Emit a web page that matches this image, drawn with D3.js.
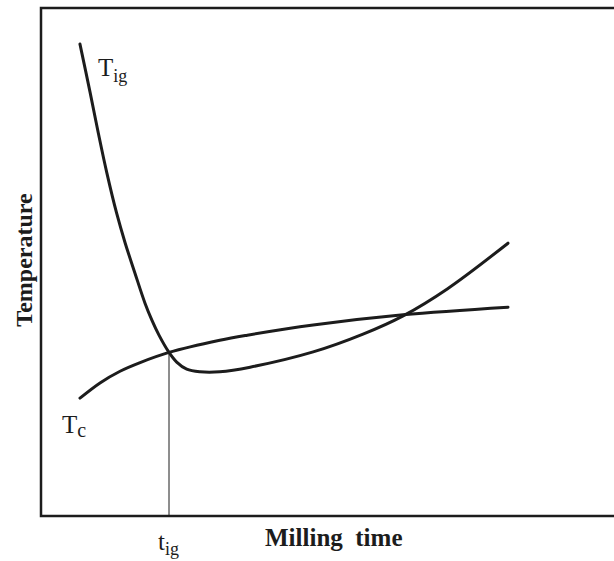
<!DOCTYPE html>
<html>
<head>
<meta charset="utf-8">
<script src="https://cdn.jsdelivr.net/npm/d3@7"></script>
<style>
  html, body { margin: 0; padding: 0; background: #fff; }
  svg { display: block; }
  text { font-family: "Liberation Serif", "DejaVu Serif", serif; fill: #1c1c1c; }
</style>
</head>
<body>
<svg id="chart" width="614" height="561"></svg>
<script>
// Schematic: ignition temperature T_ig and combustion temperature T_c vs milling time
const tigTime = [6.8, 8.55, 10.0, 11.5, 13.2, 14.7, 16.4, 18.15, 19.37, 20.59, 22.34, 23.68, 25.43, 27.75, 31.2, 36.5, 47.5, 56.2, 63.2, 70.9, 81.5];
const tigTemp = [92.9, 83.5, 75.4, 67.5, 59.6, 53.7, 47.8, 41.9, 38.5, 35.6, 32.2, 30.3, 28.9, 28.4, 28.4, 29.3, 32.3, 35.8, 39.4, 44.7, 53.7];

const tcTime = [6.8, 10.3, 13.8, 17.3, 22.34, 31.2, 36.0, 47.5, 63.2, 81.5];
const tcTemp = [23.2, 26.2, 28.5, 30.2, 32.2, 34.6, 35.6, 37.6, 39.6, 41.1];

// Milling time at which the two curves meet (marked on the time axis)
const tIgnition = 22.34;
const tIgnitionTemp = 32.2;

const xTickLabels = [{ at: tIgnition, main: "t", sub: "ig" }];
const xAxisTitle = "Milling  time";
const yAxisTitle = "Temperature";

const svg = d3.select("#chart");
const plot = { left: 41, right: 614, top: 8, bottom: 516 };

const x = d3.scaleLinear().domain([0, 100]).range([plot.left, plot.right]);
const y = d3.scaleLinear().domain([0, 100]).range([plot.bottom, plot.top]);

const ink = "#1c1c1c";

// Frame: left, top and bottom edges
svg.append("path")
  .attr("d", `M${plot.right},${plot.top}H${plot.left}V${plot.bottom}H${plot.right}`)
  .attr("fill", "none")
  .attr("stroke", ink)
  .attr("stroke-width", 2.5);

// Drop line from the intersection to the time axis
svg.append("line")
  .attr("x1", x(tIgnition)).attr("x2", x(tIgnition))
  .attr("y1", y(tIgnitionTemp)).attr("y2", y(0))
  .attr("stroke", ink)
  .attr("stroke-width", 1);

const line = d3.line()
  .x(d => x(d[0]))
  .y(d => y(d[1]))
  .curve(d3.curveCatmullRom.alpha(0.5));

const tigSeries = d3.zip(tigTime, tigTemp);
const tcSeries = d3.zip(tcTime, tcTemp);

[tigSeries, tcSeries].forEach(s => {
  svg.append("path")
    .datum(s)
    .attr("d", line)
    .attr("fill", "none")
    .attr("stroke", ink)
    .attr("stroke-width", 3)
    .attr("stroke-linecap", "round");
});

// Curve labels with subscripts
function subLabel(px, py, main, sub, size, subSize, dy) {
  const t = svg.append("text").attr("x", px).attr("y", py).style("font-size", size + "px");
  t.append("tspan").text(main);
  t.append("tspan").attr("dy", dy).style("font-size", subSize + "px").text(sub);
  return t;
}
subLabel(98, 76, "T", "ig", 25, 18, 6);
subLabel(62, 433, "T", "c", 25, 20, 4);

// Time axis label for the intersection
xTickLabels.forEach(d => {
  subLabel(x(d.at) - 11, 550, d.main, d.sub, 25, 18, 5);
});

// Axis titles
svg.append("text")
  .attr("x", 265)
  .attr("y", 546)
  .attr("xml:space", "preserve")
  .style("white-space", "pre")
  .style("font-size", "25px")
  .style("font-weight", "bold")
  .text(xAxisTitle);

svg.append("text")
  .attr("transform", "translate(32,260) rotate(-90)")
  .attr("text-anchor", "middle")
  .style("font-size", "24px")
  .style("font-weight", "bold")
  .text(yAxisTitle);
</script>
</body>
</html>
